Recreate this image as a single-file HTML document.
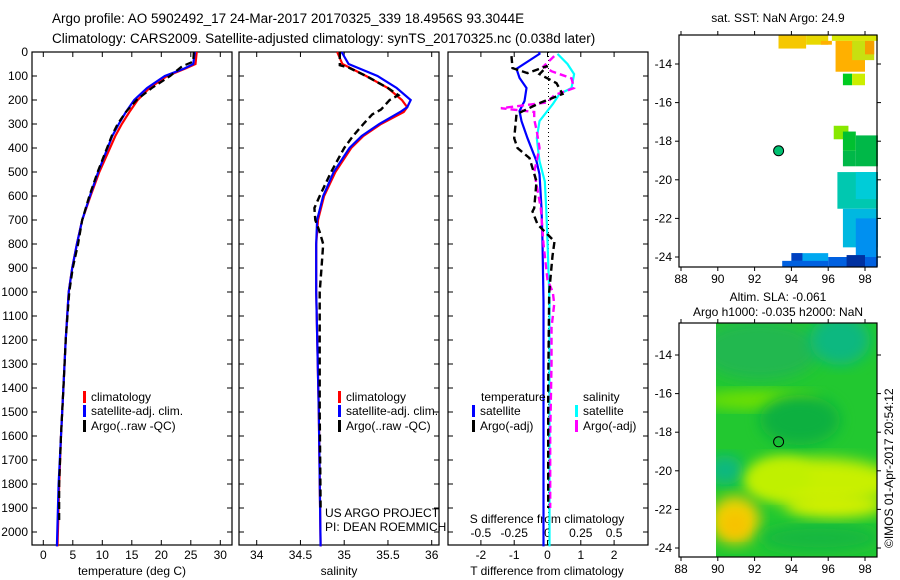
<!DOCTYPE html>
<html><head><meta charset="utf-8"><style>
html,body{margin:0;padding:0;background:#fff;}
svg{display:block;font-family:"Liberation Sans",sans-serif;}
text{font-size:12px;fill:#000;}
</style></head><body>
<svg id="c" width="900" height="580" viewBox="0 0 900 580">
<defs><filter id="bl" x="-20%" y="-20%" width="140%" height="140%"><feGaussianBlur stdDeviation="7"/></filter>
<clipPath id="m2clip"><rect x="716" y="323" width="161" height="234"/></clipPath></defs>
<text x="52" y="23" style="font-size:13.5px">Argo profile: AO 5902492_17 24-Mar-2017 20170325_339 18.4956S 93.3044E</text>
<text x="52" y="43" style="font-size:13.5px">Climatology: CARS2009. Satellite-adjusted climatology: synTS_20170325.nc (0.038d later)</text>
<g id="g"></g>
</svg>
<script>
// ---- data ----
const depthTicks=[0,100,200,300,400,500,600,700,800,900,1000,1100,1200,1300,1400,1500,1600,1700,1800,1900,2000];
const tTicks=[0,5,10,15,20,25,30];
const sTicks=[34,34.5,35,35.5,36];
const dTTicks=[-2,-1,0,1,2];
const dSTicks=[-0.5,-0.25,0,0.25,0.5];
const tClimD=[0,50,70,100,150,200,250,300,350,400,500,600,700,800,900,1000,1200,1400,1600,1800,2060];
const tClim=[26,25.8,24,21,18,16,14.6,13.3,12.2,11.3,9.5,8,6.6,5.7,4.9,4.3,3.8,3.4,3.0,2.7,2.4];
const tSat=[25.7,25.4,23.8,20.6,17.6,15.4,14.0,12.8,11.7,10.9,9.3,7.9,6.6,5.7,4.9,4.3,3.8,3.4,3.0,2.6,2.3];
const tArgoD=[0,40,60,100,150,200,250,300,350,400,500,600,700,800,900,1000,1200,1400,1600,1800,1950];
const tArgo=[25.5,25.4,23.5,21.5,18.4,15.8,14.0,12.6,11.6,10.8,9.2,7.8,6.6,5.9,5.0,4.4,3.8,3.4,3.0,2.7,2.7];
const sD=[0,50,100,150,200,230,250,300,350,400,500,600,700,800,1000,1500,2060];
const sClim=[34.92,34.98,35.25,35.5,35.66,35.72,35.68,35.42,35.22,35.08,34.9,34.77,34.7,34.68,34.68,34.71,34.73];
const sSat=[34.97,35.05,35.38,35.6,35.76,35.72,35.64,35.4,35.2,35.06,34.88,34.76,34.69,34.68,34.68,34.71,34.73];
const sArgoD=[0,55,65,100,150,180,200,240,260,300,350,400,500,600,650,700,750,800,900,1000,1500,1900];
const sArgo=[34.95,34.95,35.05,35.25,35.5,35.62,35.52,35.42,35.32,35.22,35.1,35.0,34.85,34.72,34.66,34.67,34.72,34.76,34.74,34.72,34.72,34.73];
const dTsatD=[0,8,70,108,150,204,246,288,359,455,509,651,789,1040,2060];
const dTsat=[-0.25,-0.24,-0.93,-0.84,-0.63,-0.69,-0.84,-0.78,-0.6,-0.33,-0.24,-0.18,-0.15,-0.12,-0.12];
const dTargoD=[17,67,88,58,92,130,175,213,259,359,400,442,539,651,664,718,760,789,850,1000,1400,1900];
const dTargo=[-1.08,-1.05,-0.6,0,-0.24,0.27,0.45,-0.24,-0.93,-1.0,-0.9,-0.54,-0.33,-0.4,-0.45,-0.3,0,0.21,0.15,0.05,0.02,0.02];
const dSsatD=[8,50,92,150,175,217,288,359,455,539,651,789,1040,2060];
const dSsat=[0.075,0.15,0.2,0.18,0.09,0.04,-0.06,-0.08,-0.06,-0.02,-0.01,0,0.015,0.015];
const dSargoD=[17,60,80,110,150,180,210,234,250,280,330,400,500,650,800,950,1000,1050,1150,1300,1600,1900];
const dSargo=[0.05,-0.03,0.03,0.18,0.2,0.05,0.0,-0.35,-0.1,-0.1,-0.08,-0.06,-0.1,-0.05,-0.03,0,0.04,0.05,0.03,0.03,0.02,0.02];
// ---- scales ----
const Y=d=>52+d*0.24;
const xT=v=>43.3+v*5.9, xS=v=>256.7+(v-34)*87.5, xDT=v=>547.5+v*33.3, xDS=v=>547.5+v*133.2;
const NS='http://www.w3.org/2000/svg', G=document.getElementById('g');
function el(t,a,txt){const e=document.createElementNS(NS,t);for(const k in a)e.setAttribute(k,a[k]);if(txt!==undefined)e.textContent=txt;G.appendChild(e);return e;}
function line(ds,vs,xf,col,dash,name,w){
  const p=ds.map((d,i)=>xf(vs[i]).toFixed(1)+','+Y(d).toFixed(1)).join(' ');
  const e=el('polyline',{points:p,fill:'none',stroke:col,'stroke-width':w||2.2,'stroke-dasharray':dash||'none'});
  
  
}
const panels=[[32,232],[239,439],[448,648]];
panels.forEach((p,i)=>{
  const r=el('rect',{x:p[0],y:52,width:p[1]-p[0],height:493,fill:'none',stroke:'#000','stroke-width':1.2});
  
  
  depthTicks.forEach(d=>{el('line',{x1:p[0],x2:p[0]+5,y1:Y(d),y2:Y(d),stroke:'#000'});el('line',{x1:p[1],x2:p[1]-5,y1:Y(d),y2:Y(d),stroke:'#000'});});
});
depthTicks.forEach(d=>{const t=el('text',{x:28,y:Y(d)+4,'text-anchor':'end'},d);
  
  });
function xticks(ticks,xf,y0,ty,labels){ticks.forEach((v,i)=>{const x=xf(v);
  el('line',{x1:x,x2:x,y1:545,y2:540,stroke:'#000'});el('line',{x1:x,x2:x,y1:52,y2:57,stroke:'#000'});
  const t=el('text',{x:x,y:ty,'text-anchor':'middle'},labels?labels[i]:v);
  
  });}
xticks(tTicks,xT,0,559);xticks(sTicks,xS,0,559);xticks(dTTicks,xDT,0,559);
dSTicks.forEach(v=>{const t=el('text',{x:xDS(v),y:537,'text-anchor':'middle'},v);
  
  });
[[132,'temperature (deg C)'],[339,'salinity'],[547,'T difference from climatology']].forEach(a=>{const t=el('text',{x:a[0],y:575,'text-anchor':'middle'},a[1]);
  
  });
let t=el('text',{x:547,y:523,'text-anchor':'middle'},'S difference from climatology');


el('line',{x1:xDT(0)+1,x2:xDT(0)+1,y1:52,y2:545,stroke:'#000','stroke-dasharray':'1,3'});
line(tClimD,tClim,xT,'#f00',null,'temp-climatology-line');
line(tClimD,tSat,xT,'#00f',null,'temp-satellite-line');
line(tArgoD,tArgo,xT,'#000','7,4','temp-argo-line');
line(sD,sClim,xS,'#f00',null,'sal-climatology-line');
line(sD,sSat,xS,'#00f',null,'sal-satellite-line');
line(sArgoD,sArgo,xS,'#000','7,4','sal-argo-line',2.4);
line(dSsatD,dSsat,xDS,'#0ff',null,'sdiff-satellite-line');
line(dTsatD,dTsat,xDT,'#00f',null,'tdiff-satellite-line');
line(dSargoD,dSargo,xDS,'#f0f','7,4','sdiff-argo-line',2.4);
line(dTargoD,dTargo,xDT,'#000','7,4','tdiff-argo-line',2.4);
function leg(x,y,col,txt,name){el('rect',{x:x,y:y-6,width:3,height:12,fill:col});
  const t=el('text',{x:x+8,y:y+4},txt);
  
  }
[[83,0],[338,1]].forEach(a=>{const x=a[0];
  leg(x,397,'#f00','climatology','legend-climatology');leg(x,411,'#00f','satellite-adj. clim.','legend-satellite');leg(x,426,'#000','Argo(..raw -QC)','legend-argo');});
t=el('text',{x:481,y:401},'temperature');
t=el('text',{x:583,y:401},'salinity');
leg(472,411,'#00f','satellite','legend-t-satellite');leg(472,426,'#000','Argo(-adj)','legend-t-argo');
leg(575,411,'#0ff','satellite','legend-s-satellite');leg(575,426,'#f0f','Argo(-adj)','legend-s-argo');
t=el('text',{x:325,y:517},'US ARGO PROJECT');
t=el('text',{x:325,y:531},'PI: DEAN ROEMMICH');
// ---- maps ----
const lonTicks=[88,90,92,94,96,98];
const m1LatTicks=[-14,-16,-18,-20,-22,-24];
const LX=l=>681+(l-88)*18.4;
const LY1=a=>64+(-14-a)*19.3, LY2=a=>355+(-14-a)*19.3;
function mapFrame(y0,y1,LY,name){
  const r=el('rect',{x:679,y:y0,width:198,height:y1-y0,fill:'none',stroke:'#000','stroke-width':1.2});
  
  
  lonTicks.forEach(l=>{el('line',{x1:LX(l),x2:LX(l),y1:y1,y2:y1+4,stroke:'#000'});el('line',{x1:LX(l),x2:LX(l),y1:y0,y2:y0-4,stroke:'#000'});
    const t=el('text',{x:LX(l),y:y1+16,'text-anchor':'middle'},l);});
  m1LatTicks.forEach(a=>{el('line',{x1:679,x2:675,y1:LY(a),y2:LY(a),stroke:'#000'});el('line',{x1:877,x2:881,y1:LY(a),y2:LY(a),stroke:'#000'});
    const t=el('text',{x:672,y:LY(a)+4,'text-anchor':'end'},a);});
}
const sstBlocks=[[93.3,-12.5,94.8,-13.2,'#f5c800'],[94.8,-12.5,96.0,-13.0,'#e8d800'],[96.2,-12.5,98.7,-12.8,'#d8e800'],
[96.4,-12.8,98.0,-14.4,'#ffb000'],[97.3,-12.8,98.5,-13.8,'#c8e010'],[98.0,-12.8,98.5,-13.5,'#f5a000'],[95.6,-12.8,96.2,-13.0,'#ffb000'],
[96.8,-14.5,97.3,-15.1,'#00cc20'],[97.3,-14.5,98.0,-15.1,'#ccee00'],
[96.3,-17.2,97.1,-17.9,'#88e800'],[96.8,-17.5,97.5,-18.5,'#00c030'],[97.5,-17.7,98.7,-19.3,'#00b848'],[96.8,-18.5,97.5,-19.3,'#00b848'],
[96.5,-19.6,98.7,-21.5,'#00c8b0'],[97.5,-19.6,98.7,-21,'#00ccd8'],[96.8,-21.5,98.7,-23.5,'#00b8e0'],[97.5,-22,98.7,-24,'#0090f0'],
[94.0,-23.8,96.0,-24.5,'#00a8f0'],[94.0,-23.8,94.6,-24.2,'#0040c0'],[93.5,-24.2,96,-24.5,'#0060e0'],[96,-24,98.7,-24.5,'#0060e0'],[97,-23.9,98,-24.5,'#0030a0']];
sstBlocks.forEach(b=>{const r=el('rect',{x:LX(b[0]),y:LY1(b[1]),width:LX(b[2])-LX(b[0]),height:LY1(b[3])-LY1(b[1]),fill:b[4]});
  });
mapFrame(35,267,LY1,'sst-map-frame');
let c=el('circle',{cx:LX(93.3044),cy:LY1(-18.4956),r:5,fill:'#00c070',stroke:'#000','stroke-width':1});

t=el('text',{x:778,y:22,'text-anchor':'middle'},'sat. SST: NaN Argo: 24.9');
const g2=document.createElementNS(NS,'g');g2.setAttribute('clip-path','url(#m2clip)');G.appendChild(g2);
function blob(x,y,rx,ry,col){const e=document.createElementNS(NS,'ellipse');e.setAttribute('cx',x);e.setAttribute('cy',y);e.setAttribute('rx',rx);e.setAttribute('ry',ry);e.setAttribute('fill',col);e.setAttribute('filter','url(#bl)');g2.appendChild(e);}
const r2=document.createElementNS(NS,'rect');r2.setAttribute('x',716);r2.setAttribute('y',323);r2.setAttribute('width',161);r2.setAttribute('height',234);r2.setAttribute('fill','#22c830');g2.appendChild(r2);
blob(760,350,60,30,'#20b850');blob(840,340,30,25,'#10b880');blob(760,400,60,10,'#70e000');blob(800,420,40,25,'#10b040');
blob(725,470,18,15,'#10b880');blob(820,482,75,24,'#c8f000');blob(780,477,32,20,'#c0f000');blob(735,520,25,24,'#f0d000');blob(735,525,12,12,'#f8c000');
blob(820,538,60,14,'#18b840');blob(835,505,50,13,'#d0f000');
mapFrame(323,557,LY2,'sla-map-frame');
c=el('circle',{cx:LX(93.3044),cy:LY2(-18.4956),r:5,fill:'none',stroke:'#000','stroke-width':1});

t=el('text',{x:778,y:301,'text-anchor':'middle'},'Altim. SLA: -0.061');
t=el('text',{x:778,y:316,'text-anchor':'middle'},'Argo h1000: -0.035 h2000: NaN');
t=el('text',{x:0,y:0,transform:'translate(893,548) rotate(-90)'},'©IMOS 01-Apr-2017 20:54:12');
</script>
</body></html>
